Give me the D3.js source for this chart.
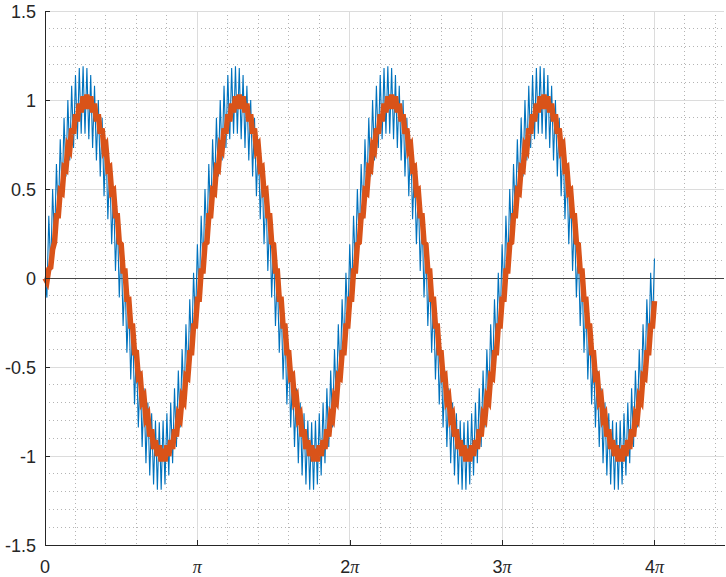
<!DOCTYPE html>
<html>
<head>
<meta charset="utf-8">
<script src="https://cdn.jsdelivr.net/npm/d3@7"></script>
<style>
  body { margin: 0; background: #fff; }
  svg { display: block; font-family: "Liberation Sans", Arial, sans-serif; }
</style>
</head>
<body>
<div id="graphContainer"></div>
<script>
// Samples: 321 points spaced evenly from 0 to 4*pi.
// noisy = thin blue trace, smooth = thick orange trace
var noisy = [
  0,-.11,.35,.04,.50,.19,.64,.33,.78,.46,.90,.57,1.00,.66,1.08,.73,1.14,.78,1.18,.81,1.19,.81,1.18,.78,1.14,.73,1.08,.66,1.00,.57,.90,.46,.78,.33,.64,.19,.50,.04,.35,-.11,.19,-.27,.03,-.42,-.12,-.57,-.26,-.71,-.40,-.84,-.52,-.95,-.62,-1.04,-.70,-1.11,-.76,-1.16,-.80,-1.19,-.81,-1.19,-.80,-1.16,-.76,-1.11,-.70,-1.04,-.62,-.95,-.52,-.84,-.40,-.71,-.26,-.57,-.12,-.42,.03,-.27,
  .19,-.11,.35,.04,.50,.19,.64,.33,.78,.46,.90,.57,1.00,.66,1.08,.73,1.14,.78,1.18,.81,1.19,.81,1.18,.78,1.14,.73,1.08,.66,1.00,.57,.90,.46,.78,.33,.64,.19,.50,.04,.35,-.11,.19,-.27,.03,-.42,-.12,-.57,-.26,-.71,-.40,-.84,-.52,-.95,-.62,-1.04,-.70,-1.11,-.76,-1.16,-.80,-1.19,-.81,-1.19,-.80,-1.16,-.76,-1.11,-.70,-1.04,-.62,-.95,-.52,-.84,-.40,-.71,-.26,-.57,-.12,-.42,.03,-.27,
  .19,-.11,.35,.04,.50,.19,.64,.33,.78,.46,.90,.57,1.00,.66,1.08,.73,1.14,.78,1.18,.81,1.19,.81,1.18,.78,1.14,.73,1.08,.66,1.00,.57,.90,.46,.78,.33,.64,.19,.50,.04,.35,-.11,.19,-.27,.03,-.42,-.12,-.57,-.26,-.71,-.40,-.84,-.52,-.95,-.62,-1.04,-.70,-1.11,-.76,-1.16,-.80,-1.19,-.81,-1.19,-.80,-1.16,-.76,-1.11,-.70,-1.04,-.62,-.95,-.52,-.84,-.40,-.71,-.26,-.57,-.12,-.42,.03,-.27,
  .19,-.11,.35,.04,.50,.19,.64,.33,.78,.46,.90,.57,1.00,.66,1.08,.73,1.14,.78,1.18,.81,1.19,.81,1.18,.78,1.14,.73,1.08,.66,1.00,.57,.90,.46,.78,.33,.64,.19,.50,.04,.35,-.11,.19,-.27,.03,-.42,-.12,-.57,-.26,-.71,-.40,-.84,-.52,-.95,-.62,-1.04,-.70,-1.11,-.76,-1.16,-.80,-1.19,-.81,-1.19,-.80,-1.16,-.76,-1.11,-.70,-1.04,-.62,-.95,-.52,-.84,-.40,-.71,-.26,-.57,-.12,-.42,.03,-.27,
  .11
];
var smooth = [
  0,-.02,.05,.06,.16,.20,.35,.35,.49,.48,.62,.61,.74,.72,.84,.81,.92,.88,.98,.93,1.02,.95,1.03,.95,1.02,.93,.98,.88,.92,.81,.84,.72,.74,.61,.62,.48,.49,.35,.35,.20,.19,.04,.04,-.12,-.12,-.27,-.27,-.42,-.42,-.56,-.55,-.69,-.67,-.79,-.77,-.89,-.85,-.96,-.91,-1.00,-.94,-1.03,-.96,-1.03,-.94,-1.00,-.91,-.96,-.85,-.89,-.77,-.79,-.67,-.69,-.55,-.56,-.42,-.42,-.27,-.27,
  -.12,-.12,.04,.04,.19,.20,.35,.35,.49,.48,.62,.61,.74,.72,.84,.81,.92,.88,.98,.93,1.02,.95,1.03,.95,1.02,.93,.98,.88,.92,.81,.84,.72,.74,.61,.62,.48,.49,.35,.35,.20,.19,.04,.04,-.12,-.12,-.27,-.27,-.42,-.42,-.56,-.55,-.69,-.67,-.79,-.77,-.89,-.85,-.96,-.91,-1.00,-.94,-1.03,-.96,-1.03,-.94,-1.00,-.91,-.96,-.85,-.89,-.77,-.79,-.67,-.69,-.55,-.56,-.42,-.42,-.27,-.27,
  -.12,-.12,.04,.04,.19,.20,.35,.35,.49,.48,.62,.61,.74,.72,.84,.81,.92,.88,.98,.93,1.02,.95,1.03,.95,1.02,.93,.98,.88,.92,.81,.84,.72,.74,.61,.62,.48,.49,.35,.35,.20,.19,.04,.04,-.12,-.12,-.27,-.27,-.42,-.42,-.56,-.55,-.69,-.67,-.79,-.77,-.89,-.85,-.96,-.91,-1.00,-.94,-1.03,-.96,-1.03,-.94,-1.00,-.91,-.96,-.85,-.89,-.77,-.79,-.67,-.69,-.55,-.56,-.42,-.42,-.27,-.27,
  -.12,-.12,.04,.04,.19,.20,.35,.35,.49,.48,.62,.61,.74,.72,.84,.81,.92,.88,.98,.93,1.02,.95,1.03,.95,1.02,.93,.98,.88,.92,.81,.84,.72,.74,.61,.62,.48,.49,.35,.35,.20,.19,.04,.04,-.12,-.12,-.27,-.27,-.42,-.42,-.56,-.55,-.69,-.67,-.79,-.77,-.89,-.85,-.96,-.91,-1.00,-.94,-1.03,-.96,-1.03,-.94,-1.00,-.91,-.96,-.85,-.89,-.77,-.79,-.67,-.69,-.55,-.56,-.42,-.42,-.27,-.27,
  -.13
];

var xTicks = [0, Math.PI, 2 * Math.PI, 3 * Math.PI, 4 * Math.PI];
var xTickLabels = ["0", "π", "2π", "3π", "4π"];
var yTicks = [-1.5, -1, -0.5, 0, 0.5, 1, 1.5];
var yTickLabels = ["-1.5", "-1", "-0.5", "0", "0.5", "1", "1.5"];
var xLimits = [0, 14];
var yLimits = [-1.5, 1.5];
var sampleEnd = 4 * Math.PI;

var width = 726, height = 577;
var plotLeft = 45, plotRight = 724, plotTop = 11, plotBottom = 545;

var svg = d3.select("#graphContainer")
    .append("svg")
    .attr("width", width)
    .attr("height", height);

var xScale = d3.scaleLinear().domain(xLimits).range([plotLeft, plotRight]);
var yScale = d3.scaleLinear().domain(yLimits).range([plotBottom, plotTop]);

// x of every sample, like linspace(0, 4*pi, 321)
var xs = noisy.map(function(d, i) { return i * sampleEnd / (noisy.length - 1); });

// minor grid (dotted), pi/5 steps on x, 0.1 steps on y
var minorX = d3.range(1, 70)
    .filter(function(k) { return k % 5 != 0 && k * Math.PI / 5 < xLimits[1]; })
    .map(function(k) { return k * Math.PI / 5; });
var minorY = d3.range(-14, 15)
    .filter(function(k) { return k % 5 != 0; })
    .map(function(k) { return k / 10; });

var grid = svg.append("g").attr("shape-rendering", "crispEdges");
grid.selectAll(".mx").data(minorX).join("line")
    .attr("x1", d => xScale(d)).attr("x2", d => xScale(d))
    .attr("y1", plotTop).attr("y2", plotBottom)
    .attr("stroke", "#b4b4b4").attr("stroke-dasharray", "1,3");
grid.selectAll(".my").data(minorY).join("line")
    .attr("y1", d => yScale(d)).attr("y2", d => yScale(d))
    .attr("x1", plotLeft).attr("x2", plotRight)
    .attr("stroke", "#b4b4b4").attr("stroke-dasharray", "1,3");

// major grid
grid.selectAll(".gx").data(xTicks).join("line")
    .attr("x1", d => xScale(d)).attr("x2", d => xScale(d))
    .attr("y1", plotTop).attr("y2", plotBottom)
    .attr("stroke", "#dcdcdc");
grid.selectAll(".gy").data(yTicks).join("line")
    .attr("y1", d => yScale(d)).attr("y2", d => yScale(d))
    .attr("x1", plotLeft).attr("x2", plotRight)
    .attr("stroke", "#dcdcdc");

// zero line
svg.append("line")
    .attr("x1", plotLeft).attr("x2", plotRight)
    .attr("y1", yScale(0)).attr("y2", yScale(0))
    .attr("stroke", "#444").attr("stroke-width", 1)
    .attr("shape-rendering", "crispEdges");

var line = d3.line()
    .x(function(d, i) { return xScale(xs[i]); })
    .y(function(d) { return yScale(d); });

svg.append("path")
    .datum(noisy)
    .attr("d", line)
    .attr("fill", "none")
    .attr("stroke", "#0072BD")
    .attr("stroke-width", 1.1);

svg.append("path")
    .datum(smooth)
    .attr("d", line)
    .attr("fill", "none")
    .attr("stroke", "#D95319")
    .attr("stroke-width", 5.5);

// axes, ticks pointing inward
var xAxis = d3.axisBottom(xScale).tickValues(xTicks).tickSize(-5).tickSizeOuter(0).tickFormat("");
svg.append("g")
    .attr("id", "x-axis")
    .attr("transform", `translate(0, ${plotBottom})`)
    .call(xAxis);

var yAxis = d3.axisLeft(yScale).tickValues(yTicks).tickSize(-5).tickSizeOuter(0).tickFormat("");
svg.append("g")
    .attr("id", "y-axis")
    .attr("transform", `translate(${plotLeft}, 0)`)
    .call(yAxis);

svg.selectAll(".domain").attr("stroke", "#262626").attr("shape-rendering", "crispEdges");
svg.selectAll(".tick line").attr("stroke", "#262626").attr("shape-rendering", "crispEdges");

// tick labels
svg.selectAll(".ylab").data(yTicks).join("text")
    .attr("x", plotLeft - 9)
    .attr("y", d => yScale(d) + 6.5)
    .attr("text-anchor", "end")
    .attr("font-size", 18)
    .attr("fill", "#262626")
    .text(function(d, i) { return yTickLabels[i]; });

var xlab = svg.selectAll(".xlab").data(xTicks).join("text")
    .attr("x", d => xScale(d))
    .attr("y", plotBottom + 28)
    .attr("text-anchor", "middle")
    .attr("font-size", 18)
    .attr("fill", "#262626");
xlab.each(function(d, i) {
    var t = d3.select(this);
    var lab = xTickLabels[i];
    var k = lab.indexOf("π");
    if (k < 0) { t.text(lab); return; }
    if (k > 0) t.append("tspan").text(lab.slice(0, k));
    t.append("tspan")
        .attr("font-family", "'Liberation Serif', serif")
        .attr("font-style", "italic")
        .text("π");
});
</script>
</body>
</html>
